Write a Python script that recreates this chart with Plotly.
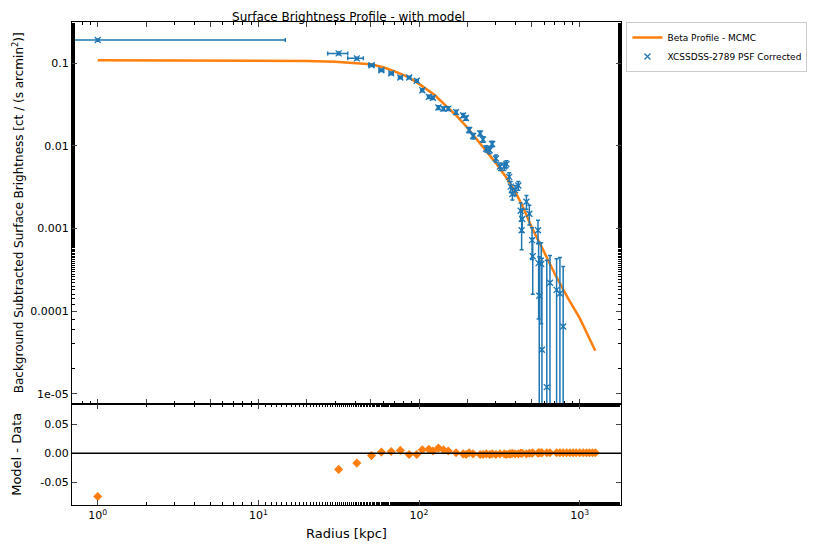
import plotly.graph_objects as go
from plotly.subplots import make_subplots

# data points (radius kpc, surface brightness)
radius = [1.0, 31.6, 41, 50.6, 58.3, 67.1, 76.5, 86.8, 96.8, 104.8, 115, 122, 132, 142, 152, 170,
          188, 196, 205, 217, 240, 250, 262, 275, 285, 301, 319, 339, 350, 364, 372, 381, 396,
          415, 429, 435, 439, 466, 486, 505, 510, 550, 555, 560, 576, 582, 624, 653, 718, 753, 789]
sb = [0.19, 0.131, 0.114, 0.094, 0.082, 0.075, 0.067, 0.067, 0.061, 0.047, 0.039, 0.038, 0.029,
      0.028, 0.0281, 0.0255, 0.0232, 0.0216, 0.0155, 0.0131, 0.0141, 0.0119, 0.0092, 0.0088,
      0.0105, 0.0070, 0.0056, 0.0056, 0.0060, 0.0042, 0.0032, 0.0026, 0.0029, 0.0033, 0.00163,
      0.00095, 0.0013, 0.0021, 0.0015, 0.00072, 0.00046, 0.00095, 0.00038, 0.000153, 0.00037,
      0.000034, 0.000012, 0.00022, 0.00018, 0.000163, 0.000065]
sb_err = [0.006, 0.005, 0.004, 0.003, 0.003, 0.003, 0.0025, 0.0025, 0.0022, 0.002, 0.0018,
          0.0018, 0.0015, 0.0015, 0.0015, 0.0014, 0.0013, 0.0013, 0.0011, 0.001, 0.001, 0.0009,
          0.0008, 0.0008, 0.0008, 0.0007, 0.0006, 0.0006, 0.0006, 0.0005, 0.0005, 0.0004, 0.0004,
          0.0004, 0.0004, 0.0004, 0.0004, 0.0004, 0.0004, 0.0003, 0.0003, 0.0003, 0.0003, 0.0003,
          0.0003, 0.0004, 0.0004, 0.00025, 0.00025, 0.00028, 0.00028]
radius_err_lo = [0.99, 4.6, 5, 2, 2, 2, 2, 2, 2, 2, 2, 2, 2, 2, 2, 2, 2, 2, 2, 2, 2, 2, 2, 2, 2,
                 2, 2, 2, 2, 2, 2, 2, 2, 2, 2, 2, 2, 2, 2, 2, 2, 2, 2, 2, 2, 2, 2, 2, 2, 2, 2]
radius_err_hi = [13.7, 4.4, 4, 2, 2, 2, 2, 2, 2, 2, 2, 2, 2, 2, 2, 2, 2, 2, 2, 2, 2, 2, 2, 2, 2,
                 2, 2, 2, 2, 2, 2, 2, 2, 2, 2, 2, 2, 2, 2, 2, 2, 2, 2, 2, 2, 2, 2, 2, 2, 2, 2]

# beta model
model_r = [1, 2, 5, 10, 20, 30, 40, 50, 60, 70, 85, 100, 125, 150, 175, 200, 250, 300, 350,
           400, 450, 500, 600, 700, 850, 1000, 1250]
model_sb = [0.108, 0.108, 0.108, 0.1075, 0.106, 0.104, 0.101, 0.097, 0.089, 0.08, 0.068, 0.056,
            0.041, 0.029, 0.022, 0.0165, 0.0098, 0.0062, 0.0041, 0.0027, 0.0017, 0.00105,
            0.00052, 0.00028, 0.00014, 0.000082, 0.000033]

# residuals (model - data)
resid = [-0.075, -0.028, -0.017, -0.004, 0.002, 0.003, 0.005, -0.002, -0.002, 0.006, 0.007,
         0.004, 0.009, 0.006, 0.004, 0.001, -0.001, -0.002, 0.001, -0.001, -0.002, -0.002, -0.001,
         -0.002, -0.001, -0.002, -0.001, -0.001, -0.002, -0.001, -0.001, 0.0, -0.001, -0.001, 0.0,
         0.0, 0.0, -0.001, 0.0, 0.0, 0.001, 0.0, 0.001, 0.001, 0.001, 0.001, 0.001, 0.001, 0.001,
         0.001, 0.001]
extra_r = [830, 870, 910, 950, 1000, 1050, 1100, 1150, 1200, 1250]
extra_resid = [0.001, 0.001, 0.001, 0.001, 0.001, 0.001, 0.001, 0.001, 0.001, 0.001]

blue = '#1f77b4'
orange = '#ff7f0e'
font = 'DejaVu Sans'

fig = make_subplots(rows=2, cols=1, shared_xaxes=True, vertical_spacing=0,
                    row_heights=[0.79, 0.21])

fig.add_trace(go.Scatter(
    x=model_r, y=model_sb, mode='lines', name='Beta Profile - MCMC',
    line=dict(color=orange, width=2.5)
), row=1, col=1)
fig.add_trace(go.Scatter(
    x=radius, y=sb, mode='markers', name='XCSSDSS-2789 PSF Corrected',
    marker=dict(symbol='x-thin', size=6, color=blue, line=dict(width=1.3, color=blue)),
    error_y=dict(type='data', array=sb_err, color=blue, thickness=1.5, width=2),
    error_x=dict(type='data', array=radius_err_hi, arrayminus=radius_err_lo, color=blue,
                 thickness=1.5, width=2)
), row=1, col=1)

fig.add_trace(go.Scatter(
    x=radius + extra_r, y=resid + extra_resid, mode='markers', showlegend=False,
    marker=dict(symbol='diamond', size=7, color=orange)
), row=2, col=1)
fig.add_hline(y=0, line=dict(color='black', width=1.5), row=2, col=1)

axis_style = dict(showline=True, linecolor='black', mirror='ticks', ticks='inside',
                  showgrid=False, zeroline=False, automargin=False,
                  tickfont=dict(family=font, size=11, color='black'))
fig.update_xaxes(type='log', range=[-0.16, 3.257], **axis_style,
                 minor=dict(ticks='inside', ticklen=3, tickcolor='black'))
fig.update_xaxes(tickvals=[1, 10, 100, 1000],
                 ticktext=['10<sup>0</sup>', '10<sup>1</sup>', '10<sup>2</sup>', '10<sup>3</sup>'],
                 title=dict(text='Radius [kpc]', font=dict(family=font, size=13), standoff=8),
                 row=2, col=1)
fig.update_xaxes(showticklabels=False, row=1, col=1)
fig.update_yaxes(type='log', range=[-5.12, -0.503], **axis_style,
                 tickvals=[1e-5, 1e-4, 1e-3, 1e-2, 1e-1],
                 ticktext=['1e-05', '0.0001', '0.001', '0.01', '0.1'],
                 minor=dict(ticks='inside', ticklen=3, tickcolor='black'),
                 title=dict(text='Background Subtracted Surface Brightness [ct / (s arcmin<sup>2</sup>)]',
                            font=dict(family=font, size=12), standoff=4),
                 row=1, col=1)
fig.update_yaxes(range=[-0.0897, 0.0862], **axis_style, tickvals=[-0.05, 0, 0.05],
                 ticktext=['-0.05', '0.00', '0.05'],
                 title=dict(text='Model - Data', font=dict(family=font, size=13)),
                 row=2, col=1)

fig.update_layout(
    width=811, height=533,
    margin=dict(l=64, r=181, t=14, b=36),
    plot_bgcolor='white', paper_bgcolor='white',
    title=dict(text='Surface Brightness Profile - with model', x=0.42, y=0.976,
               yref='container', yanchor='bottom',
               font=dict(family=font, size=12, color='black')),
    legend=dict(x=1.01, y=1.0, xanchor='left', yanchor='top', bordercolor='#cccccc', borderwidth=1,
                font=dict(family=font, size=9), itemwidth=30, tracegroupgap=0),
    font=dict(family=font, color='black')
)

fig.write_html("out.html")
